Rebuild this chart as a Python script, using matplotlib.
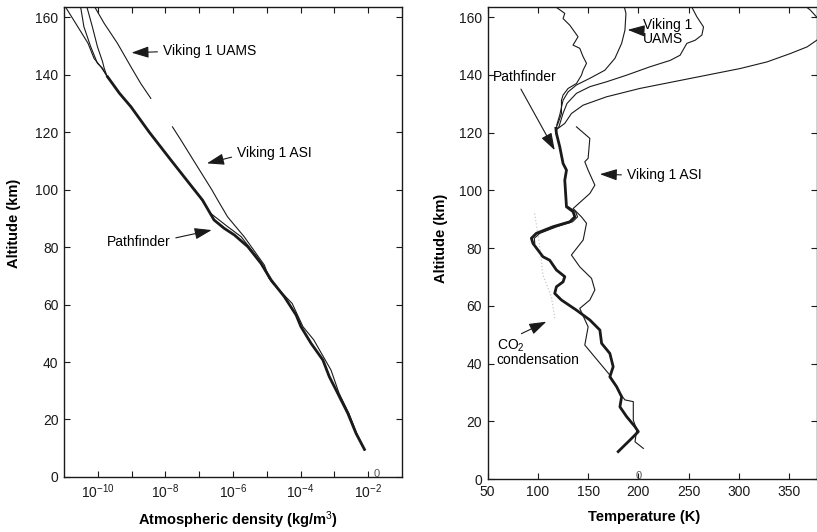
import numpy as np
import matplotlib
matplotlib.use('Agg')
import matplotlib.pyplot as plt
from matplotlib.ticker import FixedLocator, NullFormatter

plt.rcParams['font.family'] = ['Liberation Sans', 'DejaVu Sans']
plt.rcParams['mathtext.fontset'] = 'custom'
plt.rcParams['mathtext.rm'] = 'Liberation Sans'
plt.rcParams['mathtext.it'] = 'Liberation Sans:italic'
plt.rcParams['mathtext.bf'] = 'Liberation Sans:bold'

# ---- left panel: density profiles (altitude km, log10 density kg/m3) ----
pf_alt = [139.2, 133.5, 128.8, 120.0, 110.0,
          100.0, 96.3, 89.4, 86.5, 84.2, 80.1, 74.3, 68.5, 62.7, 56.3, 52.3,
          46.5, 40.7, 34.9, 29.1, 22.1, 15.2, 9.6]
pf_logrho = [-9.71, -9.36, -9.02, -8.48, -7.82,
             -7.15, -6.90, -6.56, -6.26, -5.96, -5.56, -5.17, -4.87, -4.48, -4.13, -3.99,
             -3.69, -3.34, -3.15, -2.90, -2.60, -2.36, -2.11]
pfa_alt = [163.4, 156.6, 150.9, 145.6, 142.7, 139.2]
pfa_logrho = [-10.95, -10.59, -10.29, -10.11, -9.91, -9.71]
pfb_alt = [163.0, 156.6, 149.7, 143.9, 142.2, 139.2]
pfb_logrho = [-10.50, -10.41, -10.21, -10.01, -9.86, -9.72]
pfc_alt = [163.0, 156.6, 149.7, 144.5, 142.2, 139.2]
pfc_logrho = [-10.31, -10.16, -10.01, -9.86, -9.81, -9.72]
pf2_alt = [100.0, 91.7, 87.1, 83.6, 76.1, 69.1, 62.7]
pf2_logrho = [-7.13, -6.66, -6.16, -5.76, -5.26, -4.93, -4.47]
uams_alt = [163.5, 157.8, 150.9, 142.7, 136.9, 131.7]
uams_logrho = [-10.09, -9.81, -9.42, -9.02, -8.73, -8.43]
asi_alt = [121.8, 117.2, 110.0, 100.0, 96.3, 90.5, 83.6, 73.7, 69.1, 67.4, 60.4,
           52.3, 47.7, 37.2, 29.1, 22.1, 15.2, 9.4]
asi_logrho = [-7.79, -7.54, -7.16, -6.63, -6.45, -6.16, -5.67, -5.07, -4.93, -4.83, -4.25,
              -3.93, -3.61, -3.10, -2.86, -2.57, -2.34, -2.11]

# ---- right panel: temperature profiles (altitude km, temperature K) ----
tpf_alt = [9.5, 11.8, 13.5, 16.4, 18.1, 21.6, 25.0, 28.5, 32.0, 35.4, 38.9, 43.5,
           47.0, 51.6, 55.1, 58.5, 62.0, 64.3, 66.6, 68.3, 70.1, 72.4, 75.8, 77.0,
           81.6, 83.4, 85.1, 87.4, 89.1, 90.8, 92.6, 94.3, 103.5, 107.0, 109.3,
           115.1, 119.7, 121.5]
tpf_T = [179.9, 186.6, 191.6, 199.9, 196.6, 188.3, 181.6, 183.3, 178.3, 171.6, 174.9, 171.6,
         163.4, 161.7, 151.7, 138.4, 123.5, 116.8, 118.5, 125.1, 126.8, 118.5, 111.8, 105.1,
         95.2, 93.6, 98.5, 115.1, 131.8, 136.8, 135.1, 128.5, 126.8, 128.5, 125.1,
         121.8, 118.5, 118.0]
tp1_alt = [121.5, 123.2, 126.6, 131.2, 133.0, 135.3, 137.0, 139.9, 141.6,
           144.0, 146.3, 149.2, 150.3, 153.2, 157.2, 159.5, 161.3, 163.5]
tp1_T = [118.0, 120.1, 123.5, 123.5, 125.1, 130.1, 138.4, 143.4, 145.0,
         148.4, 145.0, 141.7, 135.0, 140.0, 131.8, 125.1, 126.8, 118.0]
tpf2_alt = [81.6, 83.4, 85.1, 87.4, 89.1, 90.8, 92.6, 94.3]
tpf2_T = [97.0, 96.5, 102.0, 119.0, 134.5, 139.5, 137.5, 130.5]
tp2_alt = [120.9, 122.0, 126.6, 130.1, 133.6, 135.9, 137.6, 139.9, 142.8, 145.0,
           146.8, 150.9, 152.0, 153.8, 156.6, 160.1, 163.5]
tp2_T = [117.5, 121.0, 125.0, 129.0, 138.4, 151.7, 168.3, 188.3, 211.5, 231.5,
         241.4, 248.1, 256.4, 263.1, 264.7, 258.1, 253.0]
tp3_alt = [120.9, 123.2, 126.6, 129.5, 132.4, 135.3, 137.6, 139.9, 142.2, 144.5,
           147.4, 149.7, 152.0, 155.5, 159.7, 162.4, 163.5]
tp3_T = [118.0, 126.8, 133.4, 145.0, 168.3, 201.5, 234.7, 268.0, 301.2, 327.9,
         351.1, 367.7, 377.3, 386.0, 378.0, 371.0, 367.0]
tuams_alt = [122.6, 126.1, 131.2, 134.1, 136.5, 138.8, 141.6, 145.7, 150.9, 155.5, 161.3, 163.5]
tuams_T = [118.8, 121.8, 125.1, 130.1, 138.4, 151.7, 166.6, 176.6, 183.3, 186.6, 187.6, 186.0]
tasi_alt = [122.0, 118.0, 111.1, 109.9, 107.0, 101.8, 98.9, 93.7, 90.8, 88.6, 82.8, 77.6,
            73.5, 69.5, 65.5, 62.0, 59.1, 52.7, 46.4, 36.0, 29.7, 27.4, 26.8, 20.4,
            17.0, 12.9, 10.6]
tasi_T = [138.4, 151.7, 150.0, 146.7, 150.0, 156.7, 151.7, 135.1, 143.4, 148.4, 145.1, 133.4,
          141.7, 153.4, 156.7, 151.7, 141.7, 150.0, 146.7, 171.6, 181.6, 186.6, 194.9, 194.9,
          198.3, 196.6, 204.9]
co2_alt = [92.0, 81.0, 70.6, 63.1, 55.7]
co2_T = [96.8, 101.8, 105.1, 113.5, 116.8]

dens_ticks = [1e-10, 1e-8, 1e-6, 1e-4, 1e-2]
dens_labels = ['$10^{-10}$', '$10^{-8}$', '$10^{-6}$', '$10^{-4}$', '$10^{-2}$']
dens_minor = [1e-9, 1e-7, 1e-5, 1e-3]
alt_ticks = [0, 20, 40, 60, 80, 100, 120, 140, 160]
temp_ticks = [50, 100, 150, 200, 250, 300, 350]

ink = '#1a1a1a'


def arrow(rel=(0.5, 0.5)):
    return dict(arrowstyle='-|>,head_length=0.75,head_width=0.25', color=ink, lw=0.8,
                mutation_scale=14, shrinkA=2, shrinkB=0, relpos=rel)


fig = plt.figure(figsize=(8.17, 5.32), dpi=100)
ax1 = fig.add_axes([0.0783, 0.1034, 0.4137, 0.8835])
ax2 = fig.add_axes([0.5967, 0.0996, 0.4027, 0.8872])

# left: density
ax1.plot(10 ** np.array(pf_logrho), pf_alt, color=ink, lw=2.0)
for lr, al in [(pfa_logrho, pfa_alt), (pfb_logrho, pfb_alt), (pfc_logrho, pfc_alt),
               (pf2_logrho, pf2_alt), (uams_logrho, uams_alt), (asi_logrho, asi_alt)]:
    ax1.plot(10 ** np.array(lr), al, color=ink, lw=0.8)
ax1.set_xscale('log')
ax1.set_xlim(1e-11, 1e-1)
ax1.set_ylim(0, 163.5)
ax1.xaxis.set_major_locator(FixedLocator(dens_ticks))
ax1.set_xticklabels(dens_labels)
ax1.xaxis.set_minor_locator(FixedLocator(dens_minor))
ax1.xaxis.set_minor_formatter(NullFormatter())
ax1.set_yticks(alt_ticks)
ax1.set_xlabel('Atmospheric density (kg/m$^3$)', fontsize=10.5, fontweight='bold')
ax1.set_ylabel('Altitude (km)', fontsize=10.5, fontweight='bold')
ax1.xaxis.set_label_coords(0.515, -0.068)
ax1.yaxis.set_label_coords(-0.127, 0.54)

ax1.annotate('Viking 1 UAMS', xy=(10 ** -9.0, 147.6), xytext=(10 ** -8.07, 148.2),
             ha='left', va='center', fontsize=10, arrowprops=arrow((0, 0.45)))
ax1.annotate('Viking 1 ASI', xy=(10 ** -6.77, 109.1), xytext=(10 ** -5.88, 112.7),
             ha='left', va='center', fontsize=10, arrowprops=arrow((0, 0.3)))
ax1.annotate('Pathfinder', xy=(10 ** -6.63, 85.9), xytext=(10 ** -9.74, 81.8),
             ha='left', va='center', fontsize=10, arrowprops=arrow((1, 0.7)))
ax1.text(10 ** -1.75, 1.2, '0', fontsize=8, color='#555555', ha='center', va='center')

# right: temperature
ax2.plot(co2_T, co2_alt, color='#c8c8c8', lw=0.9, ls=':')
ax2.plot(tpf_T, tpf_alt, color=ink, lw=2.0)
for tt, al in [(tp1_T, tp1_alt), (tpf2_T, tpf2_alt), (tp2_T, tp2_alt), (tp3_T, tp3_alt),
               (tuams_T, tuams_alt), (tasi_T, tasi_alt)]:
    ax2.plot(tt, al, color=ink, lw=0.8)
ax2.set_xlim(50, 377)
ax2.set_ylim(0, 163.5)
ax2.set_xticks(temp_ticks)
ax2.set_yticks(alt_ticks)
ax2.set_xlabel('Temperature (K)', fontsize=10.5, fontweight='bold')
ax2.set_ylabel('Altitude (km)', fontsize=10.5, fontweight='bold')
ax2.xaxis.set_label_coords(0.476, -0.066)
ax2.yaxis.set_label_coords(-0.12, 0.51)

ax2.annotate('Viking 1\nUAMS', xy=(189.3, 155.6), xytext=(204.5, 154.8),
             ha='left', va='center', fontsize=10, linespacing=0.95, arrowprops=arrow((0, 0.55)))
ax2.annotate('Pathfinder', xy=(116.8, 113.9), xytext=(55, 139.3),
             ha='left', va='center', fontsize=10, arrowprops=arrow((0.4, 0)))
ax2.annotate('Viking 1 ASI', xy=(161.7, 105.6), xytext=(188.6, 105.3),
             ha='left', va='center', fontsize=10, arrowprops=arrow((0, 0.5)))
ax2.annotate('CO$_2$\ncondensation', xy=(108.5, 54.5), xytext=(59, 43.8),
             ha='left', va='center', fontsize=10, linespacing=0.95, arrowprops=arrow((0.2, 1.0)))
ax2.text(200, 1.2, '0', fontsize=8, color='#555555', ha='center', va='center')

for ax in (ax1, ax2):
    ax.tick_params(which='both', direction='in', top=True, right=True,
                   length=4, width=0.8, labelsize=10, pad=4, colors=ink)
    for s in ax.spines.values():
        s.set_linewidth(1.0)
        s.set_color(ink)

fig.savefig('out.png', dpi=100)
